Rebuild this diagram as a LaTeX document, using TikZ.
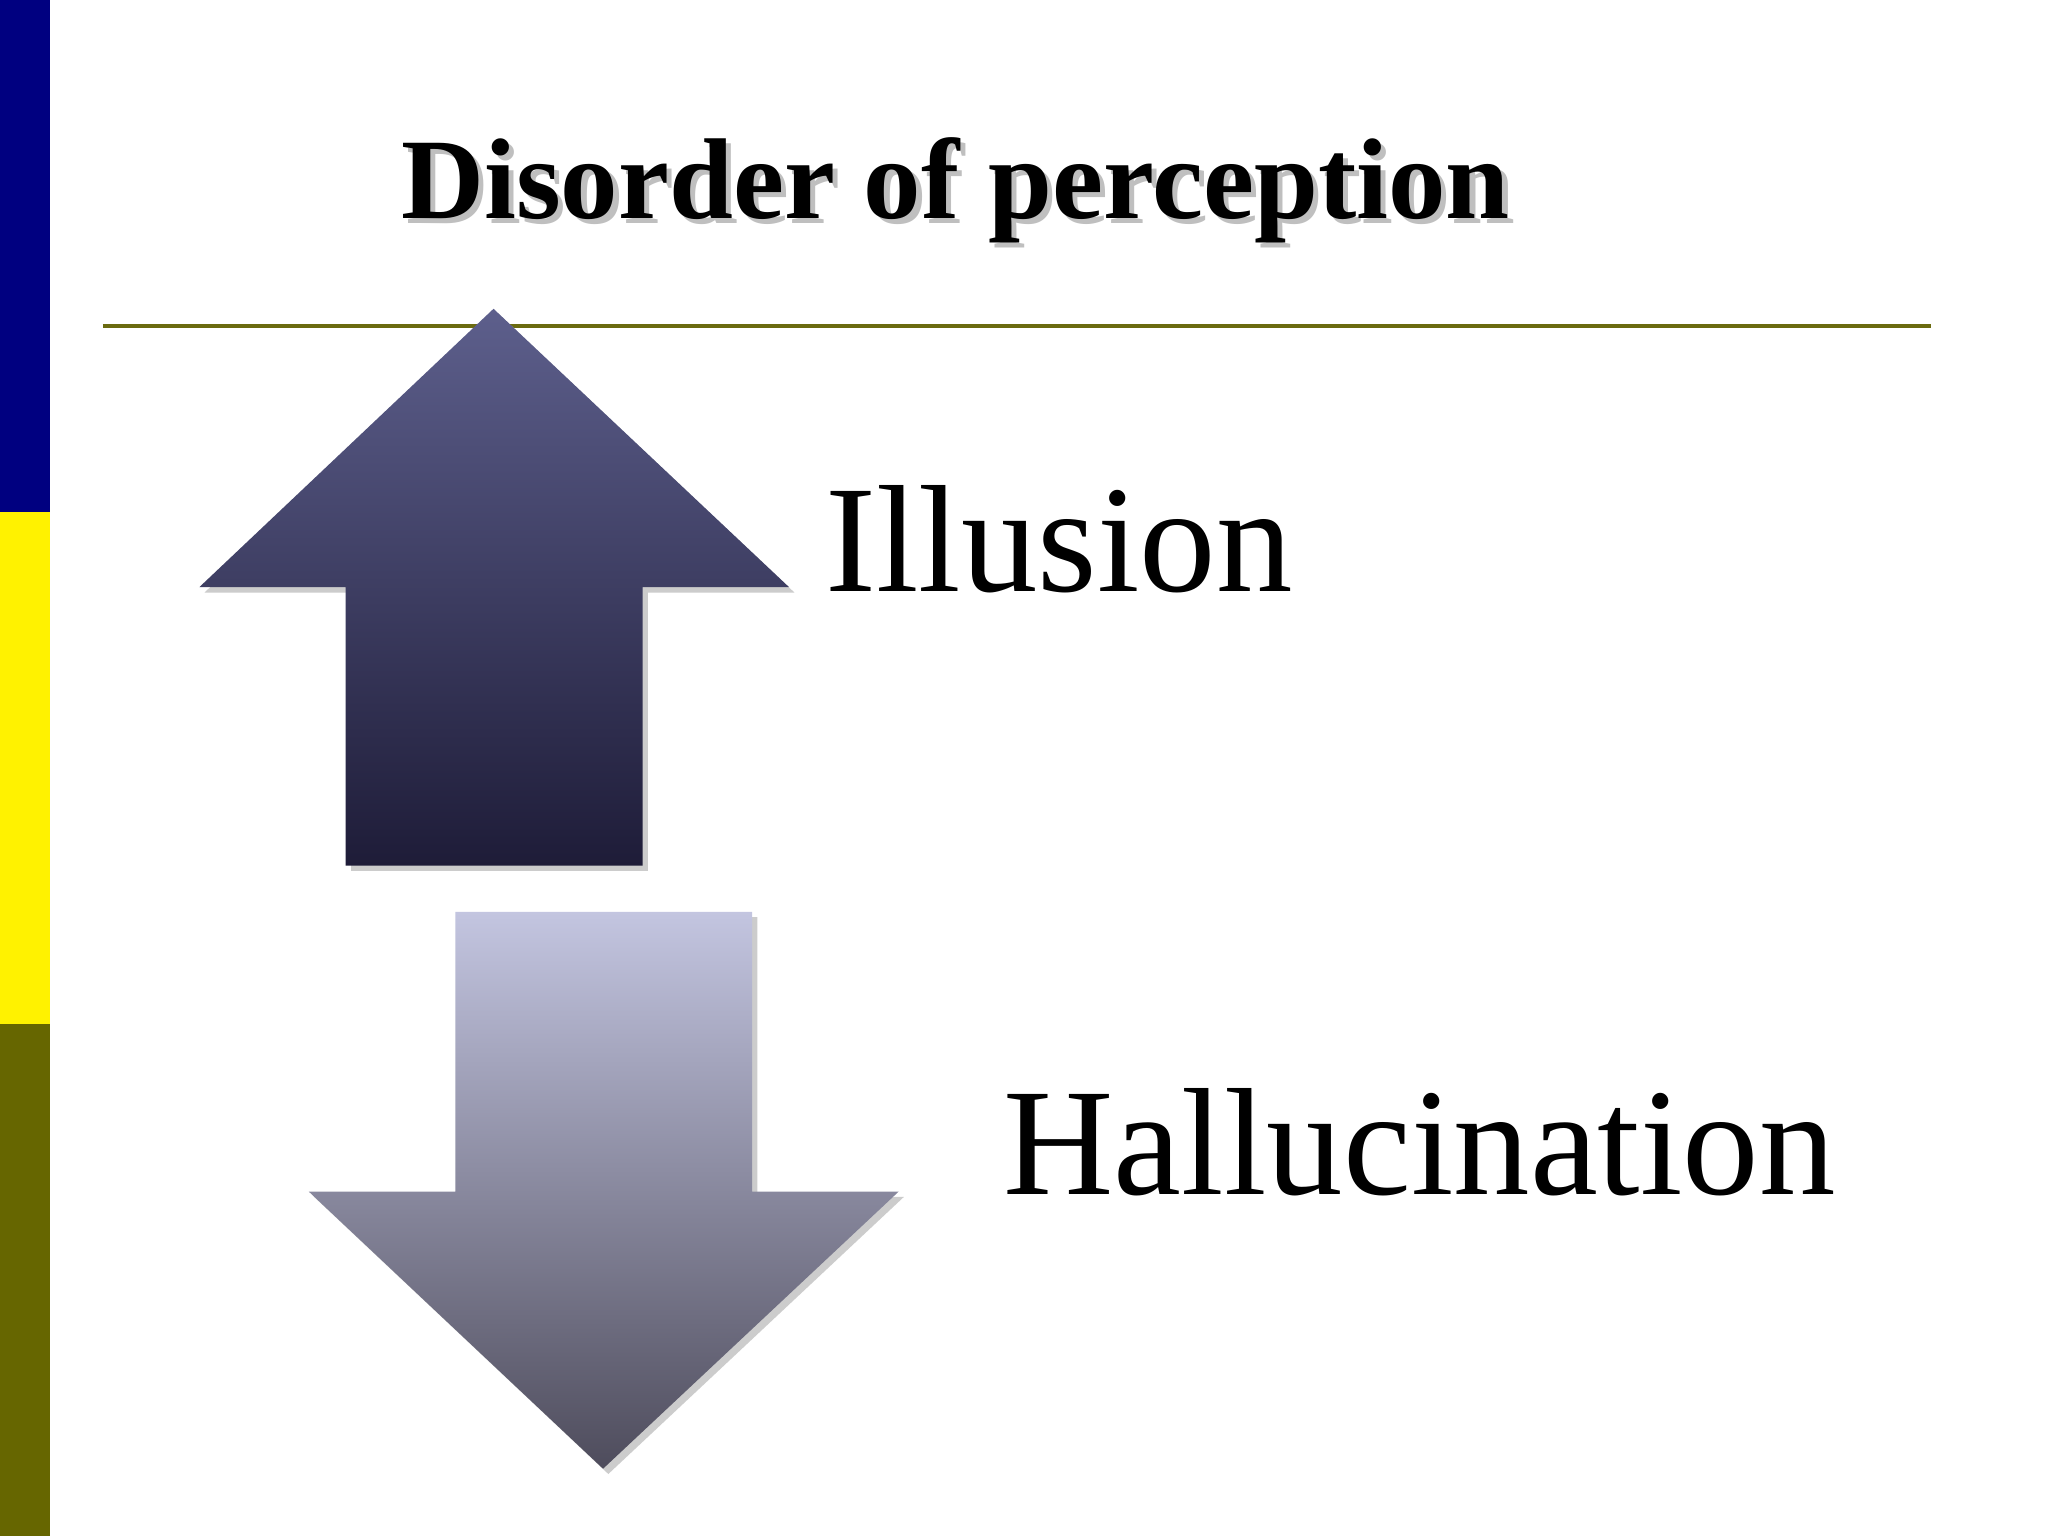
\documentclass[tikz,border=0pt]{standalone}
\usepackage{fontspec}
\setmainfont{Liberation Serif}
\definecolor{navy}{HTML}{000080}
\definecolor{olivebar}{HTML}{666600}
\definecolor{linecol}{HTML}{6B6B10}
\begin{document}
\begin{tikzpicture}[x=0.0132cm,y=-0.0132cm]
\tikzset{lbl/.style={anchor=base west,inner sep=0,font=\fontsize{43.5}{48}\selectfont}}
\useasboundingbox (0,0) rectangle (1552,1164);
\fill[white] (0,0) rectangle (1552,1164);
\fill[navy] (0,0) rectangle (38,388);
\fill[yellow] (0,388) rectangle (38,776);
\fill[olivebar] (0,776) rectangle (38,1164);
\node[inner sep=0,text=black!25,font=\bfseries\fontsize{32.7}{38}\selectfont] at (728,148) {Disorder of perception};
\node (title) [inner sep=0,font=\bfseries\fontsize{32.7}{38}\selectfont] at (724,144) {Disorder of perception};
\draw[linecol,line width=1.2pt] (78,247) -- (1463,247);
% shadows
\fill[black!20] (378,238) -- (602,449) -- (491,449) -- (491,660) -- (266,660) -- (266,449) -- (155,449) -- cycle;
\fill[black!20] (349,695) -- (574,695) -- (574,907) -- (685,907) -- (461,1117) -- (238,907) -- (349,907) -- cycle;
\shade[top color={rgb,255:red,93;green,95;blue,140},bottom color={rgb,255:red,30;green,28;blue,56}]
 (374,234) -- (598,445) -- (487,445) -- (487,656) -- (262,656) -- (262,445) -- (151,445) -- cycle;
\shade[top color={rgb,255:red,195;green,197;blue,224},bottom color={rgb,255:red,78;green,76;blue,92}]
 (345,691) -- (570,691) -- (570,903) -- (681,903) -- (457,1113) -- (234,903) -- (345,903) -- cycle;
\node (ill) [lbl] at (625,448) {Illusion};
\node (hal) [lbl] at (760,905) {Hallucination};
\end{tikzpicture}
\end{document}
